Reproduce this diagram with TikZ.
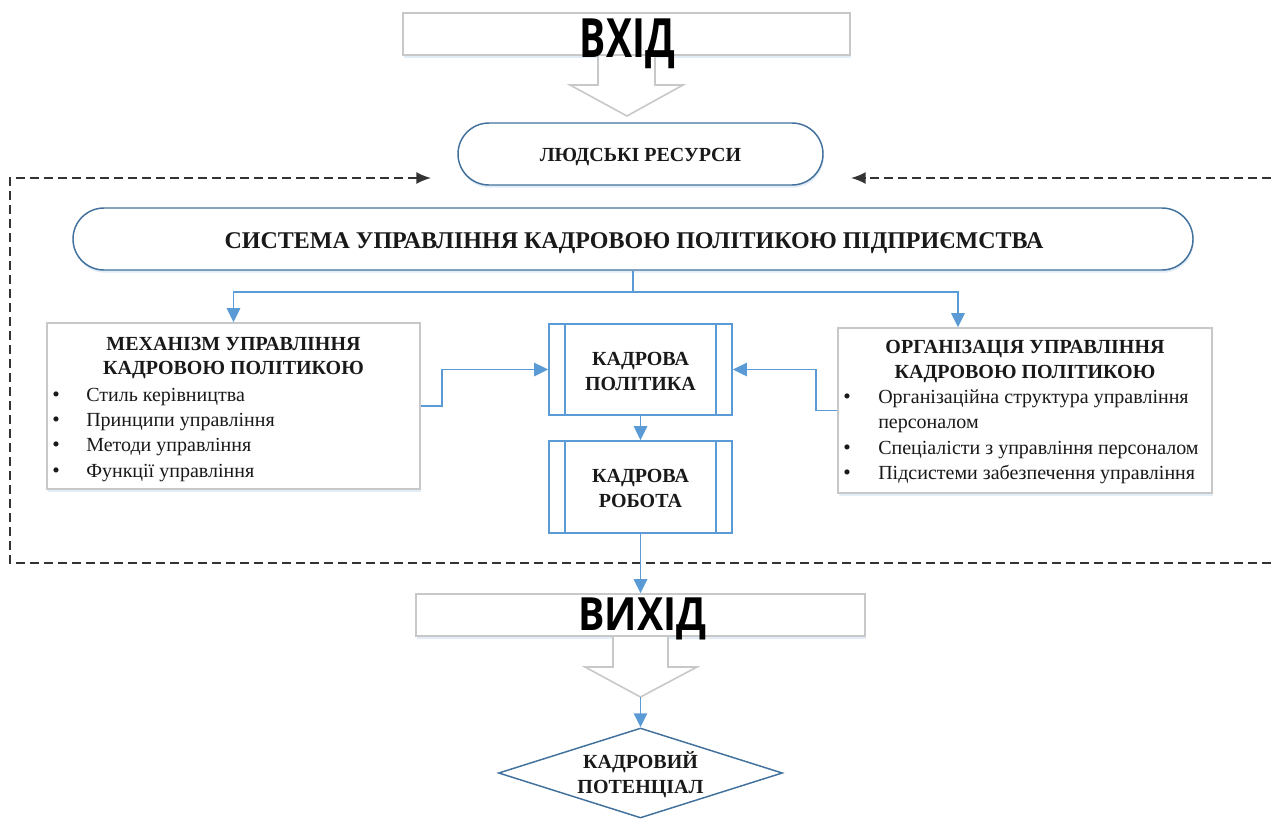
\documentclass[tikz,border=0pt]{standalone}
\usepackage{fontspec}
\setmainfont{Liberation Serif}
\newfontfamily\hfont{Open Sans}
\usetikzlibrary{arrows.meta,shapes.geometric,calc,shadows}
\newdimen\pxu \pxu=0.75pt
\definecolor{cblue}{HTML}{5B9BD5}
\definecolor{dblue}{HTML}{41719C}
\definecolor{gbord}{HTML}{C8C8C8}
\definecolor{dashcol}{HTML}{333333}
\definecolor{shcol}{HTML}{DCE8F5}
\begin{document}
\begin{tikzpicture}[x=0.75pt,y=-0.75pt,
  graybox/.style={draw=gbord,line width=1.2pt,fill=white,inner sep=0,
    drop shadow={shadow xshift=0.6pt,shadow yshift=-2pt,fill=shcol,opacity=0.8}},
  pill/.style={draw=dblue,line width=1.1pt,fill=white,inner sep=0,
    drop shadow={shadow xshift=0.6pt,shadow yshift=-2pt,fill=shcol,opacity=0.8}},
  procbox/.style={draw=cblue,line width=1.3pt,fill=white,inner sep=0,
    minimum width=183\pxu,minimum height=91\pxu},
  conn/.style={draw=cblue,line width=1.4pt,-{Triangle[length=10.5pt,width=10pt]}},
  dl/.style={draw=dashcol,line width=1.3pt,dash pattern=on 6.5pt off 4pt,
    -{Latex[length=11pt,width=9pt]}},
  blockarr/.style={draw=gbord,line width=1.2pt},
  txtb/.style={inner sep=0,anchor=base,font=\fontsize{15pt}{18pt}\selectfont\bfseries,text=black!90},
  txtr/.style={inner sep=0,anchor=base west,font=\fontsize{15pt}{18pt}\selectfont,text=black!90},
  bul/.style={inner sep=0,anchor=base,font=\fontsize{16pt}{18pt}\selectfont,text=black!90},
]
\useasboundingbox (0,0) rectangle (1271,818);

% dashed frame coordinates
\coordinate (dtl) at (10,178);
\coordinate (dbl) at (10,563);
\coordinate (dbr) at (1271,563);
\coordinate (dtr) at (1271,178);
\coordinate (dla) at (431,178);
\coordinate (dra) at (851,178);
\draw[dl] (dbr) -- (dbl) -- (dtl) -- (dla);
\draw[dl] (dtr) -- (dra);

% ВХІД
\node[graybox,minimum width=447\pxu,minimum height=42\pxu] (vhid) at (626.5,34) {};
\fill[white] (599,56) rectangle (654,86);
\fill[white] (570,85) -- (627,116) -- (683,85) -- cycle;
\draw[blockarr] (598,55) -- (598,85) -- (570,85) -- (627,116) coordinate (tip1) -- (683,85) -- (655,85) -- (655,55);
\node[inner sep=0,anchor=base] (vhidtxt) at (627.5,57)
  {\resizebox{71.25pt}{29pt}{\hfont\bfseries ВХІД}};

% ЛЮДСЬКІ РЕСУРСИ
\node[pill,rounded corners=31\pxu,minimum width=365\pxu,minimum height=62\pxu] (ludy) at (640.5,154) {};
\node[txtb] (ludytxt) at (640.5,161) {ЛЮДСЬКІ РЕСУРСИ};

% system
\node[pill,rounded corners=31\pxu,minimum width=1120\pxu,minimum height=62\pxu] (sys) at (633,239) {};
\node[txtb,font=\fontsize{18pt}{20pt}\selectfont\bfseries] (systxt) at (634,248) {СИСТЕМА УПРАВЛІННЯ КАДРОВОЮ ПОЛІТИКОЮ ПІДПРИЄМСТВА};

% mechanism box
\node[graybox,minimum width=373\pxu,minimum height=166\pxu] (mech) at (233.5,406) {};
\node[txtb] (mt1) at (233.5,350) {МЕХАНІЗМ УПРАВЛІННЯ};
\node[txtb] (mt2) at (233.5,374) {КАДРОВОЮ ПОЛІТИКОЮ};
\node[bul] (mb1) at (56,401) {•};
\node[txtr] (ml1) at (86,401) {Стиль керівництва};
\node[bul] (mb2) at (56,426) {•};
\node[txtr] (ml2) at (86,426) {Принципи управління};
\node[bul] (mb3) at (56,451) {•};
\node[txtr] (ml3) at (86,451) {Методи управління};
\node[bul] (mb4) at (56,477) {•};
\node[txtr] (ml4) at (86,477) {Функції управління};

% organisation box
\node[graybox,minimum width=374\pxu,minimum height=165\pxu] (org) at (1025,410.5) {};
\node[txtb] (ot1) at (1025,353) {ОРГАНІЗАЦІЯ УПРАВЛІННЯ};
\node[txtb] (ot2) at (1025,378) {КАДРОВОЮ ПОЛІТИКОЮ};
\node[bul] (ob1) at (847,403) {•};
\node[txtr] (ol1) at (878,403) {Організаційна структура управління};
\node[txtr] (ol1b) at (878,428) {персоналом};
\node[bul] (ob2) at (847,454) {•};
\node[txtr] (ol2) at (878,454) {Спеціалісти з управління персоналом};
\node[bul] (ob3) at (847,479) {•};
\node[txtr] (ol3) at (878,479) {Підсистеми забезпечення управління};

% process boxes
\node[procbox] (polit) at (640.5,369.5) {};
\draw[cblue,line width=1.3pt] ($(polit.north west)+(17,0)$) -- ($(polit.south west)+(17,0)$);
\draw[cblue,line width=1.3pt] ($(polit.north east)+(-17,0)$) -- ($(polit.south east)+(-17,0)$);
\node[txtb] (pt1) at (640.5,365) {КАДРОВА};
\node[txtb] (pt2) at (640.5,390) {ПОЛІТИКА};

\node[procbox,minimum height=92\pxu] (robota) at (640.5,487) {};
\draw[cblue,line width=1.3pt] ($(robota.north west)+(17,0)$) -- ($(robota.south west)+(17,0)$);
\draw[cblue,line width=1.3pt] ($(robota.north east)+(-17,0)$) -- ($(robota.south east)+(-17,0)$);
\node[txtb] (rt1) at (640.5,482) {КАДРОВА};
\node[txtb] (rt2) at (640.5,507) {РОБОТА};

% ВИХІД
\node[graybox,minimum width=449\pxu,minimum height=42\pxu] (vyhid) at (640.5,615) {};
\fill[white] (614,637) rectangle (667,668);
\fill[white] (585,667) -- (640.5,697) -- (697,667) -- cycle;
\draw[blockarr] (613,636) -- (613,667) -- (585,667) -- (640.5,697) coordinate (tip2) -- (697,667) -- (668,667) -- (668,636);
\node[inner sep=0,anchor=base] (vyhidtxt) at (642.5,630)
  {\resizebox{96pt}{24.5pt}{\hfont\bfseries ВИХІД}};

% diamond
\node[diamond,draw=dblue,line width=1.1pt,fill=white,inner sep=0,aspect=3.15,
  minimum width=284\pxu,minimum height=90\pxu] (potent) at (640.5,773) {};
\node[txtb] (dt1) at (640.5,768) {КАДРОВИЙ};
\node[txtb] (dt2) at (640.5,793) {ПОТЕНЦІАЛ};

% connectors
\draw[conn] (sys.south) -- ++(0,21) coordinate (jn) -| (mech.north);
\draw[conn] (jn) -| ([xshift=-67\pxu]org.north);
\draw[conn] (mech.east) -- ++(21,0) |- (polit.west);
\draw[conn] (org.west) -- ++(-21,0) |- (polit.east);
\draw[conn] (polit.south) -- (robota.north);
\draw[conn] (robota.south) -- (vyhid.north);
\draw[conn] (tip2) -- (potent.north);
\end{tikzpicture}
\end{document}
